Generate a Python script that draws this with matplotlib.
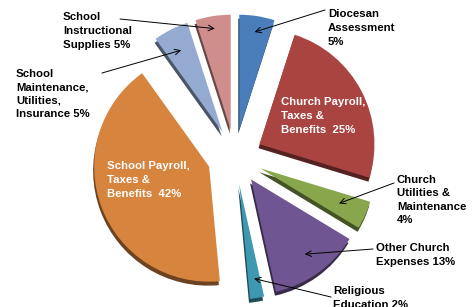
import numpy as np
import matplotlib
matplotlib.use('Agg')
import matplotlib.pyplot as plt
from matplotlib.colors import to_rgb

plt.rcParams['font.family'] = ['Liberation Sans', 'DejaVu Sans']

# 数据：顺时针，从正上方开始
labels = ['Diocesan\nAssessment\n5%',
          'Church Payroll,\nTaxes &\nBenefits  25%',
          'Church\nUtilities &\nMaintenance\n4%',
          'Other Church\nExpenses 13%',
          'Religious\nEducation 2%',
          'School Payroll,\nTaxes &\nBenefits  42%',
          'School\nMaintenance,\nUtilities,\nInsurance 5%',
          'School\nInstructional\nSupplies 5%']
values = [5, 25, 4, 13, 2, 42, 5, 5]
colors = ['#4A7EBB', '#A94441', '#88A64C', '#6F5591',
          '#3E98B0', '#D7843F', '#95AAD0', '#CF8E8C']

W, H = 477, 307
cx, cy = 235, H - 157   # 饼图中心（像素坐标）
radius = 115
explode = [0.24 * radius] * len(values)   # pie 的 explode 是绝对偏移

fig = plt.figure(figsize=(W / 100, H / 100), dpi=100)
ax = fig.add_axes([0, 0, 1, 1])

# 立体的侧面：颜色更暗、向下偏移
dark = [tuple(c * 0.5 for c in to_rgb(col)) for col in colors]
ax.pie(values, explode=explode, colors=dark, startangle=90, counterclock=False,
       radius=radius, center=(cx - 1, cy - 4), frame=True,
       wedgeprops=dict(linewidth=0, zorder=1))
wedges, _ = ax.pie(values, explode=explode, colors=colors, startangle=90,
                   counterclock=False, radius=radius, center=(cx, cy), frame=True,
                   wedgeprops=dict(linewidth=0, zorder=2))
ax.set_xlim(0, W)
ax.set_ylim(0, H)
ax.set_aspect('equal')
ax.axis('off')


def point_in(w, rf):
    ang = np.deg2rad((w.theta1 + w.theta2) / 2)
    x0, y0 = w.center
    return x0 + rf * w.r * np.cos(ang), y0 + rf * w.r * np.sin(ang)


fs = 8.2
txt = dict(fontsize=fs, fontweight='bold', linespacing=1.45, va='center', ha='left')

# 外部标签：(文字左边, 文字块中心y, 箭头起点x, 箭头起点y, 径向比例)
outer = {
    0: (328, 28, 325, 10, 0.86),
    2: (397, 200, 394, 183, 0.75),
    3: (376, 255, 373, 249, 0.8),
    4: (333, 298, 331, 297, 0.83),
    6: (16, 94, 102, 73, 0.8),
    7: (63, 31, 120, 19, 0.89),
}
for i, (tx, ty, ax0, ay0, rf) in outer.items():
    ax.text(tx, H - ty, labels[i], color='black', zorder=5, **txt)
    ax.annotate('', xy=point_in(wedges[i], rf), xytext=(ax0, H - ay0),
                arrowprops=dict(arrowstyle='->', color='black', lw=0.7,
                                shrinkA=0, shrinkB=0), zorder=6)

# 扇区内部的白色标签
ax.text(281, H - 116, labels[1], color='white', zorder=5, **txt)
ax.text(107, H - 180, labels[5], color='white', zorder=5, **txt)

fig.savefig('out.png', dpi=100)
